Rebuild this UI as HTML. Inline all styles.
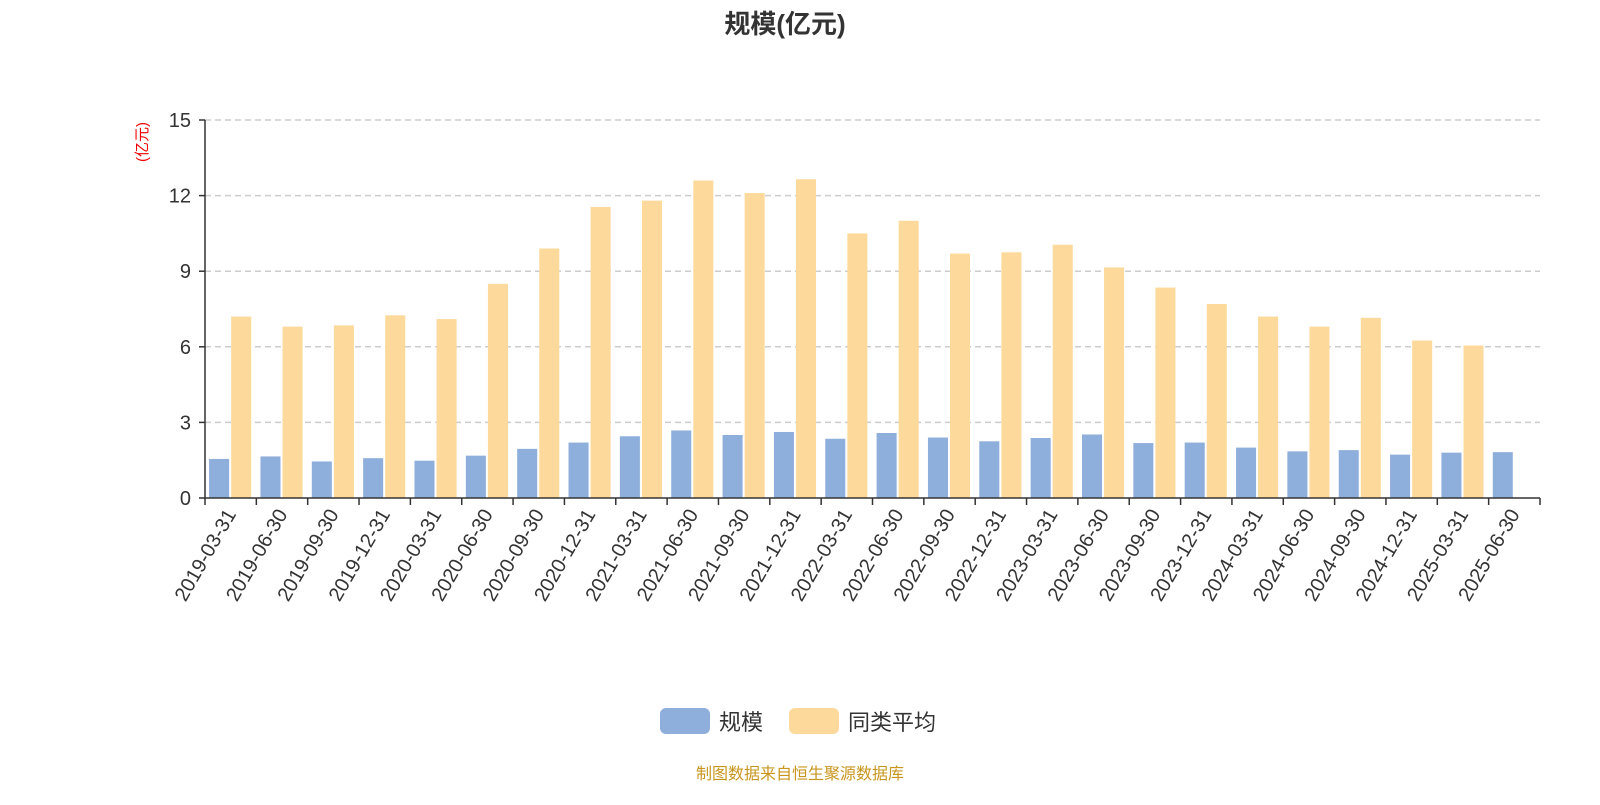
<!DOCTYPE html>
<html><head><meta charset="utf-8">
<style>
body{margin:0;background:#fff;width:1600px;height:800px;overflow:hidden;font-family:"Liberation Sans","Noto Sans CJK SC",sans-serif;}
</style></head>
<body>
<svg id="chart" width="1600" height="800" xmlns="http://www.w3.org/2000/svg" font-family="Liberation Sans, Noto Sans CJK SC, sans-serif">
<text x="785" y="33" text-anchor="middle" font-size="26" font-weight="bold" fill="#333">规模(亿元)</text>
<text transform="translate(147,142) rotate(-90)" text-anchor="middle" font-size="15" fill="#e00">(亿元)</text>
<g id="grid"></g><g id="bars"></g><g id="axes"></g>
<g>
<rect x="660" y="708" width="50" height="26" rx="6" fill="#8eaedb"/>
<text x="719" y="730" font-size="22" fill="#333">规模</text>
<rect x="789" y="708" width="50" height="26" rx="6" fill="#fdd99b"/>
<text x="848" y="730" font-size="22" fill="#333">同类平均</text>
</g>
<text x="800" y="779" text-anchor="middle" font-size="16" fill="#c8961e">制图数据来自恒生聚源数据库</text>
</svg>
<script>
const categories=["2019-03-31","2019-06-30","2019-09-30","2019-12-31","2020-03-31","2020-06-30","2020-09-30","2020-12-31","2021-03-31","2021-06-30","2021-09-30","2021-12-31","2022-03-31","2022-06-30","2022-09-30","2022-12-31","2023-03-31","2023-06-30","2023-09-30","2023-12-31","2024-03-31","2024-06-30","2024-09-30","2024-12-31","2025-03-31","2025-06-30"];
const scaleValues=[1.55,1.65,1.45,1.58,1.48,1.68,1.95,2.2,2.45,2.68,2.5,2.62,2.35,2.58,2.4,2.25,2.38,2.52,2.18,2.2,2.0,1.85,1.9,1.72,1.8,1.82];
const avgValues=[7.2,6.8,6.85,7.25,7.1,8.5,9.9,11.55,11.8,12.6,12.1,12.65,10.5,11.0,9.7,9.75,10.05,9.15,8.35,7.7,7.2,6.8,7.15,6.25,6.05,null];
const yTicks=[0,3,6,9,12,15];
const NS="http://www.w3.org/2000/svg";
const X0=205,X1=1540,Y0=498,Y1=120,YMAX=15;
const bw=(X1-X0)/categories.length;
const y=v=>Y0-(v/YMAX)*(Y0-Y1);
const xs=i=>X0+i*bw;
function mk(t,a,p){const e=document.createElementNS(NS,t);for(const k in a)e.setAttribute(k,a[k]);p.appendChild(e);return e;}
const grid=document.getElementById('grid'),bars=document.getElementById('bars'),axes=document.getElementById('axes');
yTicks.forEach(t=>{
 if(t>0){const l=mk('line',{x1:X0,x2:X1,y1:y(t),y2:y(t),stroke:'#ccc','stroke-dasharray':'6,4','stroke-width':1.5},grid);
 
 }
 const tx=mk('text',{x:X0-14,y:y(t)+7,'text-anchor':'end','font-size':20,fill:'#333'},axes);tx.textContent=t;
 
 
 const tk=mk('line',{x1:X0-6,x2:X0,y1:y(t),y2:y(t),stroke:'#333','stroke-width':1.5},axes);
 
 
});
categories.forEach((c,i)=>{
 const b=xs(i)+bw*0.08,w=bw*0.39;
 const r=mk('rect',{x:b,y:y(scaleValues[i]),width:w,height:Y0-y(scaleValues[i]),fill:'#8eaedb'},bars);
 
 
 if(avgValues[i]!=null){
 const r2=mk('rect',{x:b+w+bw*0.04,y:y(avgValues[i]),width:w,height:Y0-y(avgValues[i]),fill:'#fdd99b'},bars);
 
 }
 const tk=mk('line',{x1:xs(i),x2:xs(i),y1:Y0,y2:Y0+7,stroke:'#333','stroke-width':1.5},axes);
 
 
 const cx=xs(i)+bw/2;
 const t=mk('text',{x:cx+6,y:Y0+16,'text-anchor':'end','font-size':20,fill:'#333',transform:`rotate(-60 ${cx+6} ${Y0+16})`},axes);t.textContent=c;
 
 
});
const tkl=mk('line',{x1:X1,x2:X1,y1:Y0,y2:Y0+7,stroke:'#333','stroke-width':1.5},axes);


const xa=mk('line',{x1:X0,x2:X1,y1:Y0,y2:Y0,stroke:'#333','stroke-width':1.5},axes);


const ya=mk('line',{x1:X0,x2:X0,y1:Y1,y2:Y0,stroke:'#333','stroke-width':1.5},axes);


</script>
</body></html>
